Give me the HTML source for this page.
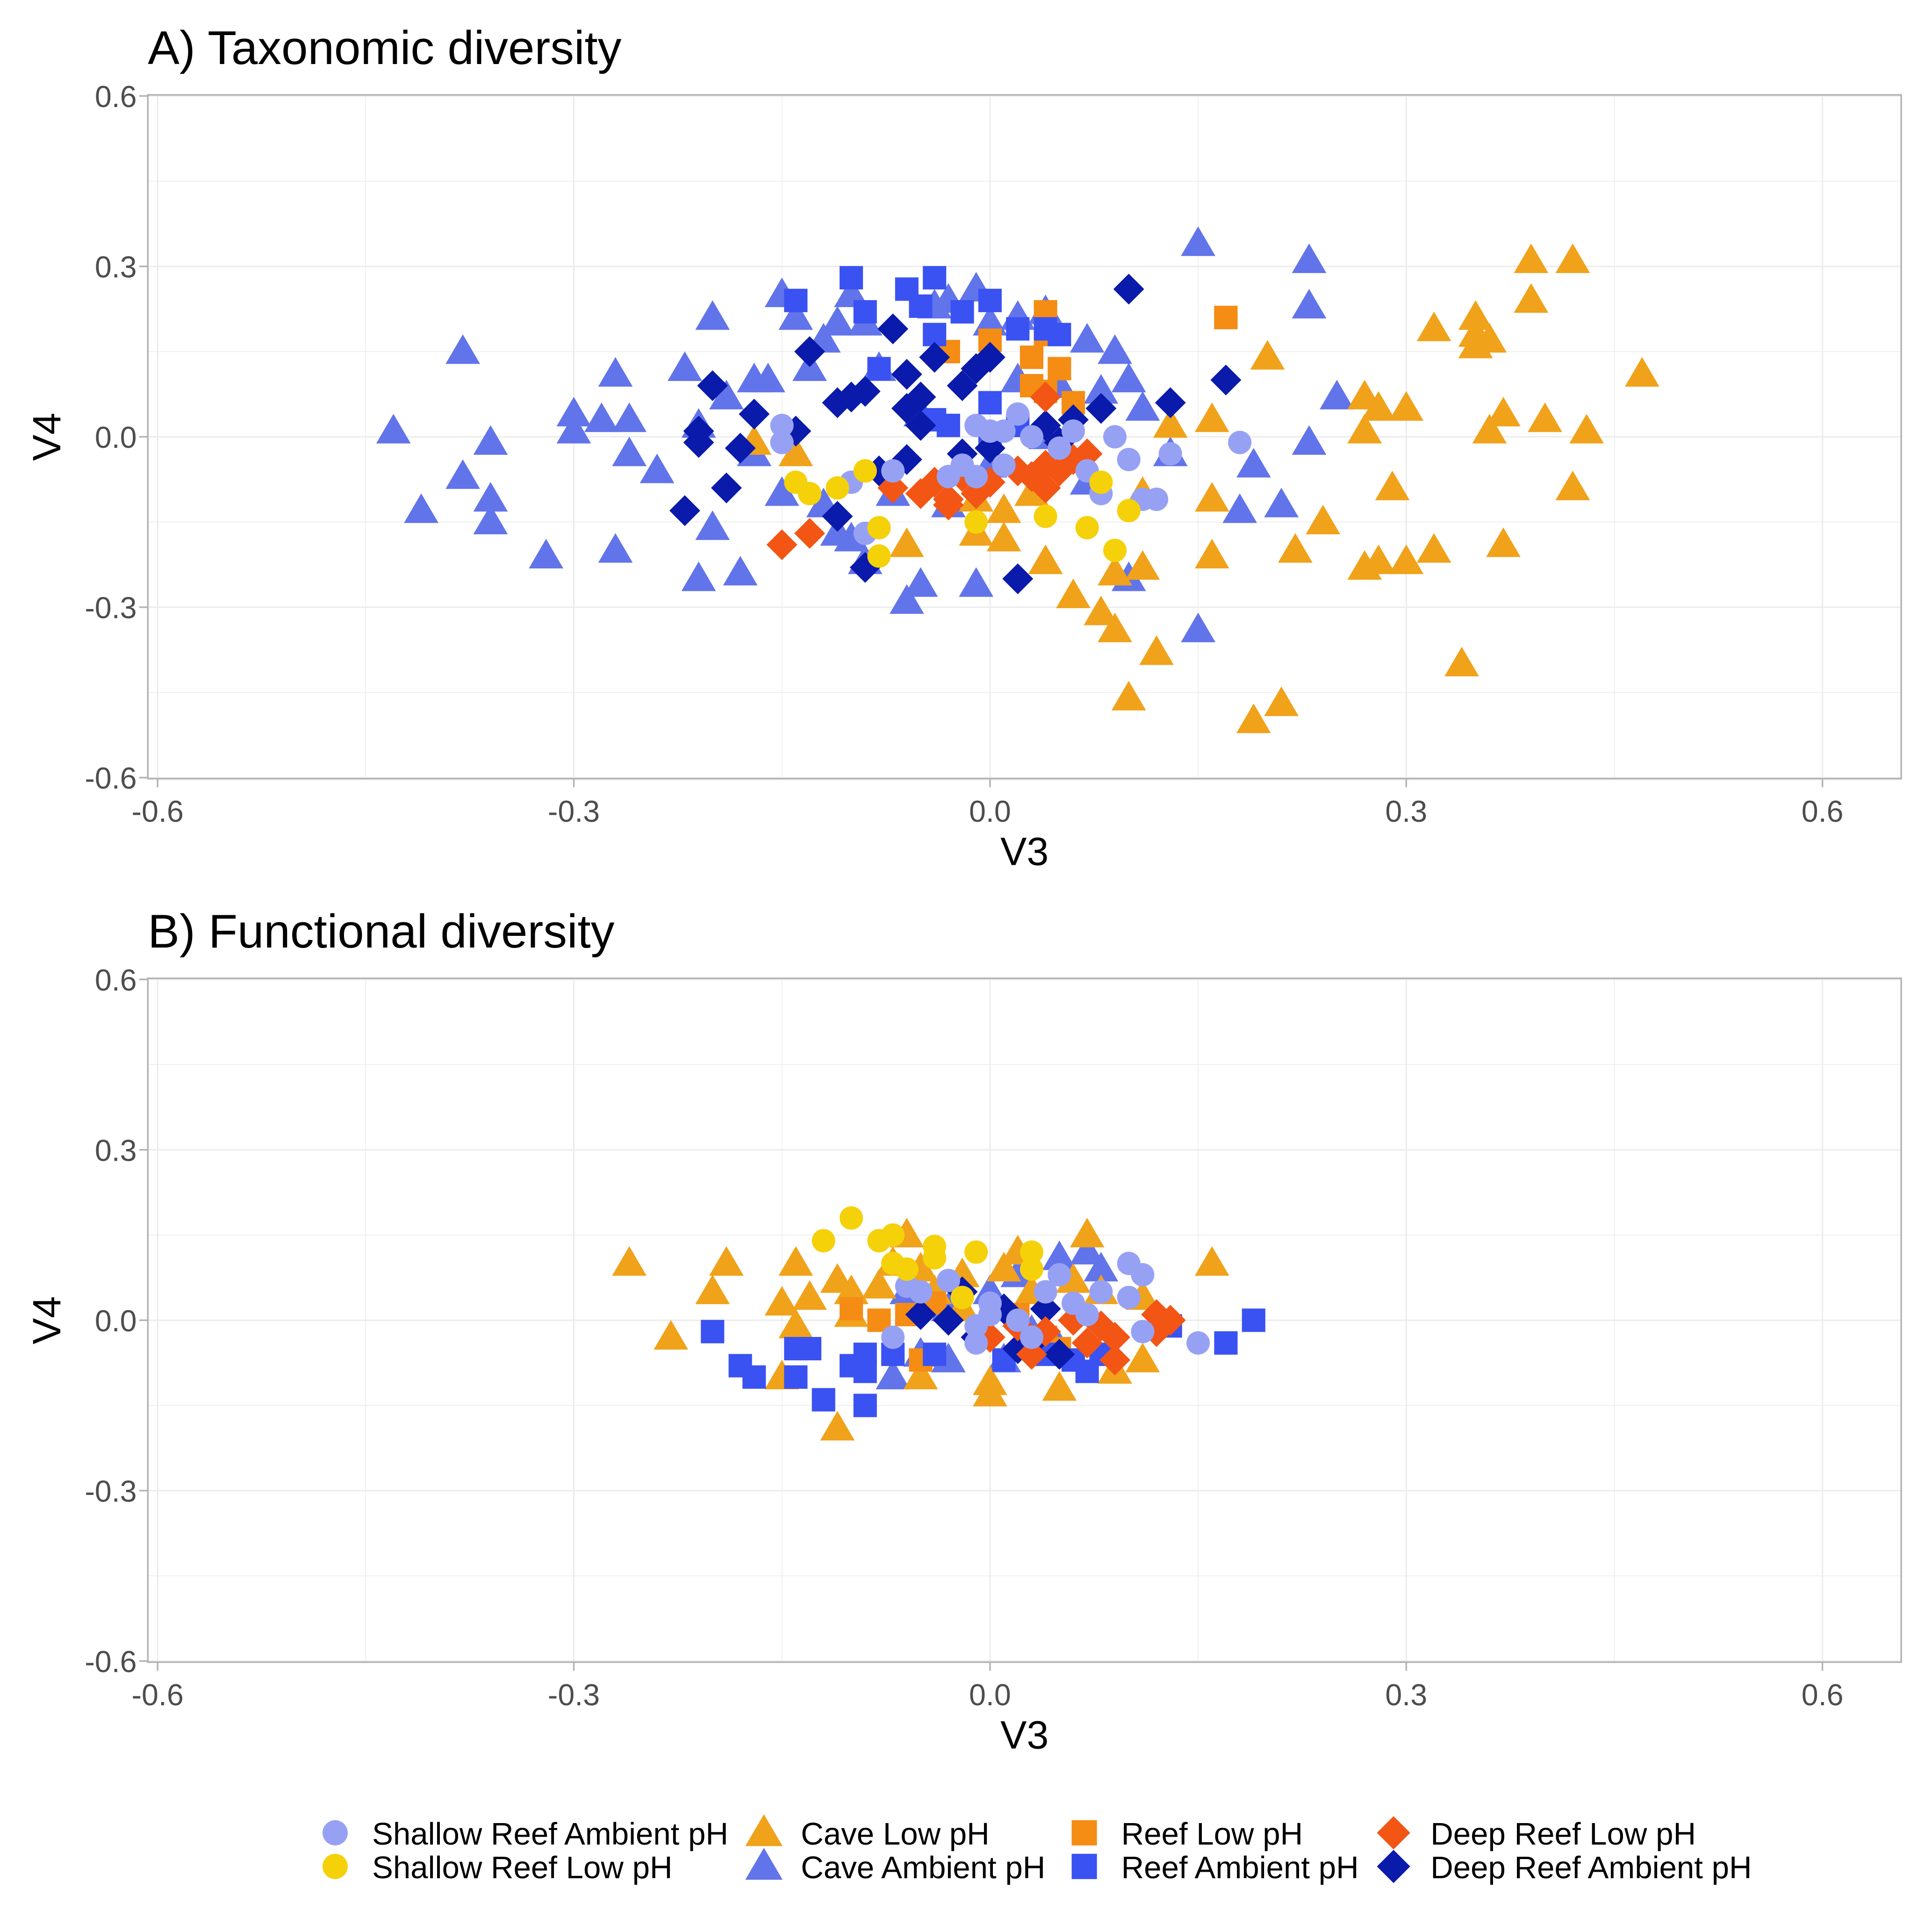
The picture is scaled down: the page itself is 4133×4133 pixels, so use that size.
<!DOCTYPE html>
<html><head><meta charset="utf-8">
<style>
html,body{margin:0;padding:0;background:#fff;}
svg{display:block;font-family:"Liberation Sans",Arial,sans-serif;}
</style></head>
<body>
<svg id="chart" width="4133" height="4133" viewBox="0 0 1568 1568" xmlns="http://www.w3.org/2000/svg"></svg>
<script>
// ---- data ----
const xTicks = [-0.6,-0.3,0.0,0.3,0.6];
const yTicks = [-0.6,-0.3,0.0,0.3,0.6];
const xTickLabels = ["-0.6","-0.3","0.0","0.3","0.6"];
const yTickLabels = ["-0.6","-0.3","0.0","0.3","0.6"];
const panelTitles = ["A) Taxonomic diversity","B) Functional diversity"];
const seriesNames = ["Shallow Reef Ambient pH","Shallow Reef Low pH","Cave Low pH","Cave Ambient pH","Reef Low pH","Reef Ambient pH","Deep Reef Low pH","Deep Reef Ambient pH"];

const A_caveAmb = [[-0.43,0.01],[-0.41,-0.13],[-0.38,0.15],[-0.38,-0.07],[-0.36,-0.11],[-0.36,-0.15],[-0.36,-0.01],[-0.32,-0.21],[-0.30,0.04],[-0.30,0.01],[-0.28,0.03],[-0.27,-0.20],[-0.27,0.11],[-0.26,0.03],[-0.26,-0.03],[-0.24,-0.06],[-0.22,0.12],[-0.21,0.02],[-0.20,0.21],[-0.20,-0.16],[-0.21,-0.25],[-0.18,-0.24],[-0.19,0.07],[-0.17,0.10],[-0.16,0.10],[-0.17,-0.03],[-0.15,0.25],[-0.14,0.21],[-0.13,0.12],[-0.15,-0.10],[-0.12,0.17],[-0.11,0.20],[-0.10,0.25],[-0.11,-0.17],[-0.10,-0.18],[-0.09,0.20],[-0.08,0.12],[-0.09,-0.22],[-0.06,-0.29],[-0.05,-0.26],[-0.04,0.23],[-0.03,0.24],[-0.01,0.26],[-0.01,-0.26],[0.0,0.20],[0.02,0.21],[0.04,0.22],[0.05,0.09],[0.07,0.17],[0.08,0.08],[0.09,0.15],[0.10,0.10],[0.11,0.05],[0.13,-0.03],[0.15,0.34],[0.15,-0.34],[0.18,-0.13],[0.19,-0.05],[0.21,-0.12],[0.23,0.31],[0.23,0.23],[0.23,-0.01],[0.25,0.07],[0.10,-0.25],[-0.07,-0.10],[-0.03,-0.12],[0.0,-0.05],[0.04,0.0],[-0.12,-0.12],[-0.05,0.04],[0.02,0.10],[0.07,-0.08]];
const A_caveLow = [[-0.14,-0.03],[-0.17,-0.01],[-0.06,-0.19],[-0.01,-0.17],[0.01,-0.18],[0.04,-0.22],[0.06,-0.28],[0.08,-0.31],[0.09,-0.34],[0.09,-0.24],[0.11,-0.23],[0.11,-0.10],[0.10,-0.46],[0.12,-0.38],[0.13,0.02],[0.16,0.03],[0.16,-0.11],[0.16,-0.21],[0.19,-0.50],[0.20,0.14],[0.21,-0.47],[0.22,-0.20],[0.24,-0.15],[0.27,0.01],[0.27,0.07],[0.28,0.05],[0.27,-0.23],[0.28,-0.22],[0.29,-0.09],[0.30,0.05],[0.30,-0.22],[0.32,0.19],[0.32,-0.20],[0.34,-0.40],[0.35,0.18],[0.35,0.21],[0.35,0.16],[0.36,0.17],[0.36,0.01],[0.37,0.04],[0.37,-0.19],[0.39,0.24],[0.39,0.31],[0.40,0.03],[0.42,0.31],[0.42,-0.09],[0.43,0.01],[0.47,0.11],[0.01,-0.13],[0.03,-0.10],[-0.01,-0.11]];
const A_reefLow = [[-0.03,0.15],[0.0,0.17],[0.03,0.14],[0.03,0.09],[0.04,0.18],[0.04,0.22],[0.05,0.12],[0.06,0.06],[0.17,0.21],[0.17,0.21],[0.04,0.08]];
const A_reefAmb = [[-0.14,0.24],[-0.10,0.28],[-0.09,0.22],[-0.08,0.12],[-0.06,0.26],[-0.05,0.23],[-0.04,0.28],[-0.04,0.18],[-0.02,0.22],[0.0,0.24],[0.0,0.06],[0.0,0.0],[0.02,0.19],[0.04,0.19],[0.05,0.18],[-0.03,0.02],[0.02,0.02],[-0.04,0.03]];
const A_deepAmb = [[-0.22,-0.13],[-0.21,-0.01],[-0.21,0.01],[-0.20,0.09],[-0.19,-0.09],[-0.18,-0.02],[-0.17,0.04],[-0.14,0.01],[-0.13,0.15],[-0.11,0.06],[-0.11,-0.14],[-0.10,0.07],[-0.09,0.08],[-0.09,-0.23],[-0.07,0.19],[-0.06,0.11],[-0.06,0.05],[-0.05,0.02],[-0.06,-0.04],[-0.04,0.14],[-0.02,0.09],[-0.01,0.12],[0.0,0.14],[0.02,-0.25],[0.04,0.02],[0.06,0.03],[0.08,0.05],[0.10,0.26],[0.13,0.06],[0.17,0.10],[-0.02,-0.03],[0.0,-0.02],[0.05,-0.01],[-0.08,-0.06],[-0.05,0.07]];
const A_deepLow = [[-0.15,-0.19],[-0.13,-0.17],[-0.07,-0.09],[-0.05,-0.10],[-0.04,-0.08],[-0.03,-0.11],[-0.02,-0.07],[-0.01,-0.10],[0.0,-0.08],[0.02,-0.06],[0.03,-0.07],[0.04,-0.05],[0.04,-0.09],[0.05,-0.06],[0.06,-0.04],[0.07,-0.03],[0.04,0.07],[-0.03,-0.12]];
const A_shallowAmb = [[-0.15,0.02],[-0.15,-0.01],[-0.10,-0.08],[-0.07,-0.06],[-0.03,-0.07],[-0.02,-0.05],[-0.01,0.02],[0.0,0.01],[-0.01,-0.07],[0.01,-0.05],[0.02,0.04],[0.03,0.0],[0.05,-0.02],[0.06,0.01],[0.07,-0.06],[0.08,-0.10],[0.09,0.0],[0.10,-0.04],[0.11,-0.11],[0.12,-0.11],[0.13,-0.03],[0.18,-0.01],[-0.09,-0.17],[0.01,0.01]];
const A_shallowLow = [[-0.14,-0.08],[-0.13,-0.10],[-0.11,-0.09],[-0.09,-0.06],[-0.08,-0.16],[-0.08,-0.21],[-0.01,-0.15],[0.04,-0.14],[0.07,-0.16],[0.08,-0.08],[0.09,-0.20],[0.10,-0.13]];

const B_caveLow = [[-0.26,0.10],[-0.23,-0.03],[-0.19,0.10],[-0.20,0.05],[-0.15,0.03],[-0.14,0.10],[-0.14,-0.01],[-0.13,0.04],[-0.15,-0.10],[-0.11,-0.19],[-0.11,0.07],[-0.10,0.05],[-0.08,0.06],[-0.07,0.10],[-0.06,0.15],[-0.05,0.09],[-0.04,0.05],[-0.05,-0.10],[-0.02,0.02],[0.0,-0.11],[0.0,-0.13],[0.01,0.09],[0.02,0.12],[0.03,0.05],[0.05,-0.12],[0.06,0.07],[0.07,0.15],[0.08,0.05],[0.09,-0.09],[0.11,-0.07],[0.11,0.04],[0.16,0.10],[-0.10,0.01],[-0.02,0.08]];
const B_caveAmb = [[-0.07,-0.10],[-0.05,-0.06],[-0.03,-0.07],[0.0,0.05],[0.02,0.08],[0.05,0.11],[0.07,0.12],[0.08,0.09],[0.03,-0.02],[-0.06,0.05],[0.01,-0.07],[0.05,-0.05],[-0.03,0.02]];
const B_reefLow = [[-0.05,-0.07],[-0.08,0.0],[-0.10,0.02],[-0.04,0.03],[0.02,0.01],[0.04,-0.03],[0.05,-0.05],[-0.06,0.01]];
const B_reefAmb = [[-0.20,-0.02],[-0.18,-0.08],[-0.17,-0.10],[-0.14,-0.05],[-0.14,-0.10],[-0.13,-0.05],[-0.12,-0.14],[-0.10,-0.08],[-0.09,-0.15],[-0.09,-0.09],[-0.09,-0.06],[-0.07,-0.06],[-0.04,-0.06],[0.01,-0.07],[0.04,-0.06],[0.07,-0.09],[0.08,-0.06],[0.13,-0.01],[0.17,-0.04],[0.19,0.0],[0.06,-0.07]];
const B_deepAmb = [[-0.05,0.01],[-0.03,0.0],[-0.01,-0.03],[0.01,0.02],[0.03,-0.04],[0.05,-0.06],[0.04,0.02],[0.02,-0.05],[-0.02,0.05]];
const B_deepLow = [[0.0,-0.03],[0.02,-0.01],[0.04,-0.02],[0.06,0.0],[0.07,-0.04],[0.09,-0.03],[0.09,-0.07],[0.12,0.01],[0.13,0.0],[0.12,-0.02],[0.03,-0.06],[0.08,-0.01]];
const B_shallowAmb = [[-0.07,-0.03],[-0.05,0.05],[-0.03,0.07],[-0.01,-0.01],[-0.01,-0.04],[0.0,0.01],[0.02,0.0],[0.03,-0.03],[0.04,0.05],[0.05,0.08],[0.06,0.03],[0.07,0.01],[0.08,0.05],[0.10,0.04],[0.10,0.10],[0.11,0.08],[0.11,-0.02],[0.15,-0.04],[-0.06,0.06],[0.0,0.03]];
const B_shallowLow = [[-0.12,0.14],[-0.10,0.18],[-0.08,0.14],[-0.07,0.15],[-0.07,0.10],[-0.06,0.09],[-0.04,0.13],[-0.04,0.11],[-0.02,0.04],[-0.01,0.12],[0.03,0.12],[0.03,0.09]];

// ---- rendering ----
const NS="http://www.w3.org/2000/svg";
const svg=document.getElementById('chart');
function mk(tag,attrs,parent){const e=document.createElementNS(NS,tag);for(const k in attrs)e.setAttribute(k,attrs[k]);(parent||svg).appendChild(e);return e;}
const style={
 shallowAmb:{shape:'circle',color:'#97A1F4'},
 shallowLow:{shape:'circle',color:'#F5D10A'},
 caveLow:{shape:'tri',color:'#F0A21A'},
 caveAmb:{shape:'tri',color:'#6274EA'},
 reefLow:{shape:'square',color:'#F58C14'},
 reefAmb:{shape:'square',color:'#3A52F2'},
 deepLow:{shape:'diamond',color:'#F25514'},
 deepAmb:{shape:'diamond',color:'#0A1AAA'}
};
function marker(g,shape,cx,cy,color,s){
 s=s||1;
 let e;
 if(shape==='circle') e=mk('circle',{cx:cx,cy:cy,r:9.5*s,fill:color},g);
 else if(shape==='tri') e=mk('polygon',{points:`${cx},${cy-14*s} ${cx-14*s},${cy+10*s} ${cx+14*s},${cy+10*s}`,fill:color},g);
 else if(shape==='square') e=mk('rect',{x:cx-9.5*s,y:cy-9.5*s,width:19*s,height:19*s,fill:color},g);
 else e=mk('polygon',{points:`${cx},${cy-12.5*s} ${cx+12.5*s},${cy} ${cx},${cy+12.5*s} ${cx-12.5*s},${cy}`,fill:color},g);
 return e;
}
function panel(idx,top,data){
 const L=120,R=1543,T=top,B=top+555;
 const xs=v=>803.5+v*1126;
 const ys=v=>(T+277.5)-v*461;
 const g=mk('g',{});
 
 
 mk('rect',{x:L,y:T,width:R-L,height:B-T,fill:'#fff'},g);
 for(let v=-0.6;v<=0.601;v+=0.15){
   const minor=Math.abs(Math.round(v*100)%30)!==0;
   mk('line',{x1:xs(v),x2:xs(v),y1:T,y2:B,stroke:'#ebebeb','stroke-width':minor?0.6:1.1},g);
   mk('line',{x1:L,x2:R,y1:ys(v),y2:ys(v),stroke:'#ebebeb','stroke-width':minor?0.6:1.1},g);
 }
 const pts=mk('g',{},g);
 
 
 const order=['caveAmb','caveLow','reefLow','reefAmb','deepAmb','deepLow','shallowAmb','shallowLow'];
 order.forEach(k=>{
   data[k].forEach(p=>{
     const m=marker(pts,style[k].shape,xs(p[0]),ys(p[1]),style[k].color);
     
     
   });
 });
 mk('rect',{x:L,y:T,width:R-L,height:B-T,fill:'none',stroke:'#b3b3b3','stroke-width':1.3},g);
 xTicks.forEach((v,i)=>{
   mk('line',{x1:xs(v),x2:xs(v),y1:B,y2:B+7,stroke:'#b3b3b3','stroke-width':1.3},g);
   const t=mk('text',{x:xs(v),y:B+35,'text-anchor':'middle','font-size':24.5,fill:'#4d4d4d'},g);
   t.textContent=xTickLabels[i];
   
   
 });
 yTicks.forEach((v,i)=>{
   mk('line',{x1:L-7,x2:L,y1:ys(v),y2:ys(v),stroke:'#b3b3b3','stroke-width':1.3},g);
   const t=mk('text',{x:L-9,y:ys(v)+9,'text-anchor':'end','font-size':24.5,fill:'#4d4d4d'},g);
   t.textContent=yTickLabels[i];
   
   
 });
 const tt=mk('text',{x:L,y:T-25,'font-size':38.5,fill:'#000'},g);
 tt.textContent=panelTitles[idx];
 
 
 const xt=mk('text',{x:(L+R)/2,y:B+70,'text-anchor':'middle','font-size':32,fill:'#000'},g);
 xt.textContent='V3';
 
 
 const yt=mk('text',{x:0,y:0,'text-anchor':'middle','font-size':32,fill:'#000',transform:`translate(49,${(T+B)/2}) rotate(-90)`},g);
 yt.textContent='V4';
 
 
}
panel(0,77,{caveAmb:A_caveAmb,caveLow:A_caveLow,reefLow:A_reefLow,reefAmb:A_reefAmb,deepAmb:A_deepAmb,deepLow:A_deepLow,shallowAmb:A_shallowAmb,shallowLow:A_shallowLow});
panel(1,794,{caveAmb:B_caveAmb,caveLow:B_caveLow,reefLow:B_reefLow,reefAmb:B_reefAmb,deepAmb:B_deepAmb,deepLow:B_deepLow,shallowAmb:B_shallowAmb,shallowLow:B_shallowLow});

// legend
const lg=mk('g',{});


const legendKeys=['shallowAmb','shallowLow','caveLow','caveAmb','reefLow','reefAmb','deepLow','deepAmb'];
const colX=[272,620,880,1131];
legendKeys.forEach((k,i)=>{
 const col=Math.floor(i/2), row=i%2;
 const cx=colX[col], cy=1487.5+row*27.3;
 const m=marker(lg,style[k].shape,cx,cy,style[k].color,1.08);
 
 
 const t=mk('text',{x:cx+30,y:cy+9.5,'font-size':25.5,fill:'#000'},lg);
 t.textContent=seriesNames[i];
 
 
});
</script>
</body></html>
